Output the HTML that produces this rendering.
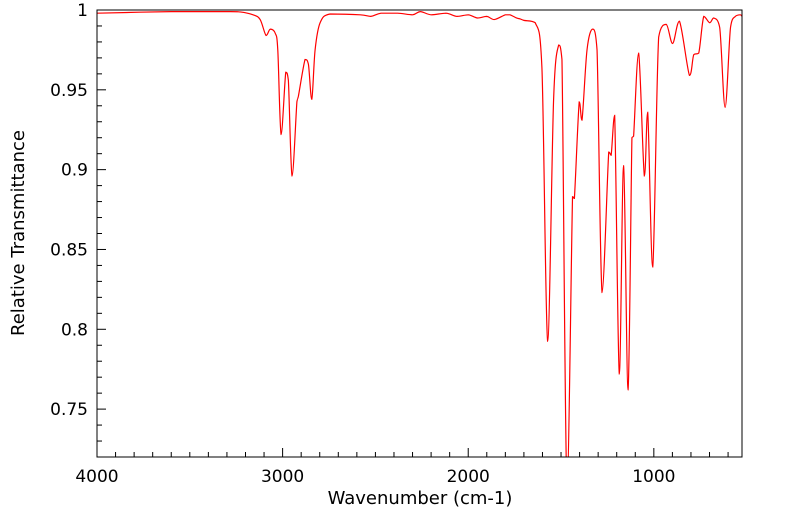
<!DOCTYPE html>
<html><head><meta charset="utf-8"><style>
body{margin:0;background:#fff;}
svg{display:block;font-family:"DejaVu Sans","Liberation Sans",sans-serif;}
</style></head><body>
<svg id="chart" width="799" height="516">
<defs><clipPath id="clip"><rect x="97" y="10" width="645" height="447"/></clipPath></defs>
<g id="axes"></g>
<path id="line" fill="none" stroke="#ff0000" stroke-width="1.2" clip-path="url(#clip)"/>
<rect x="97" y="10" width="645" height="447" fill="none" stroke="#000" stroke-width="1"/>
<text x="420" y="504" text-anchor="middle" font-size="18">Wavenumber (cm-1)</text>
<text transform="translate(24,233) rotate(-90)" text-anchor="middle" font-size="18">Relative Transmittance</text>
</svg>
<script>
const wavenumbers=[4000,3600,3300,3229,3159,3121,3089,3067,3040,3026,3008,2983,2969,2949,2923,2915,2879,2861,2843,2825,2798,2744,2582,2525,2470,2380,2300,2258,2200,2120,2060,2000,1950,1900,1860,1800,1775,1740,1720,1700,1639,1603,1572,1540,1513,1495,1468,1438,1428,1402,1387,1360,1330,1306,1279,1243,1230,1211,1186,1163,1139,1118,1109,1082,1051,1033,1006,974,933,899,862,808,785,758,731,699,677,645,616,587,561,534,525];
const transmittance=[0.998,0.999,0.999,0.9988,0.997,0.994,0.984,0.988,0.9855,0.975,0.922,0.961,0.956,0.896,0.9425,0.946,0.969,0.966,0.944,0.975,0.992,0.9975,0.997,0.996,0.998,0.998,0.997,0.999,0.997,0.998,0.996,0.997,0.995,0.996,0.994,0.997,0.997,0.995,0.9944,0.9935,0.992,0.964,0.7925,0.944,0.978,0.969,0.70,0.883,0.882,0.9425,0.931,0.975,0.988,0.975,0.823,0.911,0.909,0.934,0.772,0.9025,0.762,0.92,0.921,0.973,0.896,0.936,0.839,0.983,0.991,0.979,0.993,0.959,0.972,0.973,0.996,0.992,0.995,0.989,0.939,0.989,0.996,0.997,0.996];
const xTicks=[4000,3000,2000,1000];
const yTicks=[0.75,0.8,0.85,0.9,0.95,1];
const L=97,R=742,T=10,B=457;
const xs=w=>L+(4000-w)*(R-L)/3475;
const ys=v=>T+(1-v)*(B-T)/0.28;
const ns="http://www.w3.org/2000/svg";
const ax=document.getElementById('axes');
function mk(tag,attrs){const e=document.createElementNS(ns,tag);for(const k in attrs)e.setAttribute(k,attrs[k]);ax.appendChild(e);return e;}
for(let w=4000;w>=525;w-=100){
  const maj=w%1000===0;
  const t=mk('line',{x1:xs(w),x2:xs(w),y1:B,y2:B-(maj?9:5),stroke:'#000'});
  
  
}
xTicks.forEach(w=>{
  const t=mk('text',{x:xs(w),y:482,'text-anchor':'middle','font-size':17});
  t.textContent=w;
  
  
});
for(let v=0.72;v<=1.0001;v+=0.01){
  const r=Math.round(v*100);
  const maj=r%5===0;
  const t=mk('line',{x1:L,x2:L+(maj?9:5),y1:ys(v),y2:ys(v),stroke:'#000'});
  
  
}
yTicks.forEach(v=>{
  const t=mk('text',{x:88,y:ys(v)+6,'text-anchor':'end','font-size':17});
  t.textContent=String(v);
  
  
});
const P=wavenumbers.map((w,i)=>[xs(w),ys(transmittance[i])]);
const clamp=(v,a,b)=>Math.max(Math.min(a,b),Math.min(Math.max(a,b),v));
let d='M'+P[0][0]+','+P[0][1];
for(let i=0;i<P.length-1;i++){
  const p0=P[Math.max(i-1,0)],p1=P[i],p2=P[i+1],p3=P[Math.min(i+2,P.length-1)];
  const c1=[p1[0]+(p2[0]-p0[0])/6,clamp(p1[1]+(p2[1]-p0[1])/6,p1[1],p2[1])];
  const c2=[p2[0]-(p3[0]-p1[0])/6,clamp(p2[1]-(p3[1]-p1[1])/6,p1[1],p2[1])];
  d+=' C'+c1[0]+','+c1[1]+' '+c2[0]+','+c2[1]+' '+p2[0]+','+p2[1];
}
document.getElementById('line').setAttribute('d',d);
</script>
</body></html>
